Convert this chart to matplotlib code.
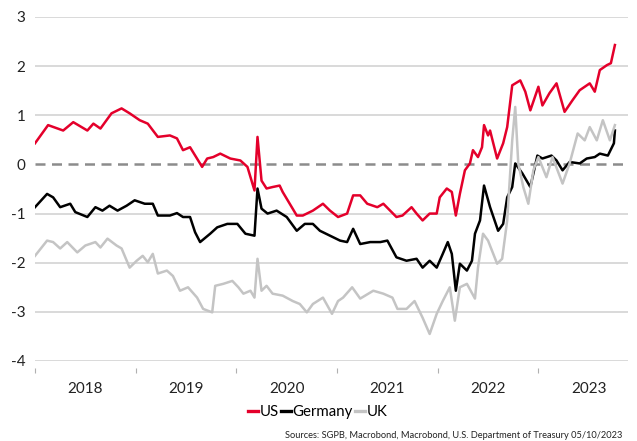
import matplotlib
matplotlib.use("Agg")
import matplotlib.pyplot as plt
from matplotlib.ticker import FixedLocator, NullFormatter, FixedFormatter

# ---- data (decimal years, percent) ----
t_us = [2018.00, 2018.13, 2018.28, 2018.38, 2018.52, 2018.58, 2018.65, 2018.76, 2018.86, 2018.94,
        2019.04, 2019.12, 2019.22, 2019.34, 2019.41, 2019.47, 2019.54, 2019.57, 2019.66, 2019.71,
        2019.77, 2019.84, 2019.94, 2020.04, 2020.11, 2020.18, 2020.21, 2020.25, 2020.30, 2020.36,
        2020.43, 2020.46, 2020.53, 2020.60, 2020.66, 2020.76, 2020.86, 2020.93, 2021.01, 2021.10,
        2021.16, 2021.23, 2021.30, 2021.40, 2021.46, 2021.59, 2021.65, 2021.74, 2021.79, 2021.85,
        2021.92, 2021.99, 2022.02, 2022.09, 2022.14, 2022.18, 2022.22, 2022.27, 2022.32, 2022.35,
        2022.40, 2022.44, 2022.46, 2022.50, 2022.52, 2022.59, 2022.65, 2022.69, 2022.74, 2022.82,
        2022.87, 2022.92, 2023.00, 2023.04, 2023.11, 2023.18, 2023.26, 2023.34, 2023.41, 2023.51,
        2023.56, 2023.61, 2023.68, 2023.72, 2023.76]
us = [0.43, 0.80, 0.69, 0.86, 0.69, 0.83, 0.73, 1.04, 1.14, 1.04,
      0.90, 0.83, 0.56, 0.59, 0.53, 0.29, 0.35, 0.25, -0.05, 0.12,
      0.15, 0.22, 0.12, 0.08, -0.05, -0.53, 0.56, -0.33, -0.49, -0.46,
      -0.43, -0.56, -0.80, -1.04, -1.04, -0.94, -0.80, -0.94, -1.07, -1.00,
      -0.63, -0.63, -0.80, -0.87, -0.80, -1.07, -1.04, -0.87, -1.00, -1.14,
      -1.00, -1.00, -0.67, -0.49, -0.56, -1.04, -0.60, -0.12, 0.02, 0.29,
      0.15, 0.35, 0.80, 0.59, 0.69, 0.12, 0.43, 0.76, 1.61, 1.71,
      1.48, 1.10, 1.58, 1.20, 1.45, 1.65, 1.07, 1.31, 1.51, 1.65,
      1.48, 1.92, 2.02, 2.06, 2.43]

t_de = [2018.00, 2018.12, 2018.18, 2018.25, 2018.35, 2018.40, 2018.52, 2018.60, 2018.67, 2018.74,
        2018.82, 2018.91, 2018.99, 2019.09, 2019.17, 2019.22, 2019.34, 2019.41, 2019.47, 2019.54,
        2019.59, 2019.64, 2019.74, 2019.81, 2019.91, 2020.01, 2020.09, 2020.18, 2020.21, 2020.25,
        2020.31, 2020.40, 2020.50, 2020.60, 2020.68, 2020.76, 2020.83, 2020.93, 2021.03, 2021.10,
        2021.16, 2021.23, 2021.33, 2021.43, 2021.50, 2021.59, 2021.69, 2021.79, 2021.85, 2021.92,
        2021.99, 2022.05, 2022.10, 2022.14, 2022.18, 2022.22, 2022.29, 2022.34, 2022.37, 2022.42,
        2022.46, 2022.52, 2022.60, 2022.65, 2022.69, 2022.74, 2022.77, 2022.84, 2022.92, 2022.99,
        2023.04, 2023.13, 2023.18, 2023.24, 2023.31, 2023.41, 2023.48, 2023.56, 2023.61, 2023.69,
        2023.75, 2023.76]
de = [-0.87, -0.60, -0.67, -0.87, -0.80, -0.97, -1.07, -0.87, -0.94, -0.84,
      -0.94, -0.84, -0.73, -0.80, -0.80, -1.04, -1.04, -0.99, -1.07, -1.07,
      -1.38, -1.58, -1.41, -1.28, -1.21, -1.21, -1.41, -1.45, -0.49, -0.90,
      -1.00, -0.94, -1.07, -1.35, -1.21, -1.21, -1.35, -1.45, -1.55, -1.58,
      -1.31, -1.62, -1.58, -1.58, -1.55, -1.89, -1.96, -1.92, -2.10, -1.96,
      -2.10, -1.82, -1.58, -1.82, -2.57, -2.02, -2.16, -1.96, -1.41, -1.14,
      -0.43, -0.87, -1.35, -1.21, -0.67, -0.46, 0.02, -0.18, -0.46, 0.18,
      0.12, 0.18, 0.08, -0.12, 0.05, 0.02, 0.12, 0.15, 0.22, 0.18,
      0.43, 0.69]

t_uk = [2018.00, 2018.12, 2018.18, 2018.25, 2018.32, 2018.42, 2018.50, 2018.60, 2018.65, 2018.72,
        2018.81, 2018.86, 2018.94, 2019.01, 2019.07, 2019.12, 2019.17, 2019.22, 2019.31, 2019.37,
        2019.44, 2019.52, 2019.61, 2019.67, 2019.76, 2019.79, 2019.87, 2019.96, 2020.02, 2020.07,
        2020.14, 2020.18, 2020.21, 2020.25, 2020.30, 2020.36, 2020.46, 2020.56, 2020.63, 2020.70,
        2020.76, 2020.86, 2020.95, 2021.01, 2021.06, 2021.15, 2021.23, 2021.36, 2021.46, 2021.55,
        2021.60, 2021.69, 2021.77, 2021.85, 2021.92, 2021.99, 2022.05, 2022.12, 2022.17, 2022.22,
        2022.29, 2022.37, 2022.40, 2022.45, 2022.50, 2022.59, 2022.64, 2022.69, 2022.74, 2022.77,
        2022.80, 2022.85, 2022.90, 2022.95, 2023.00, 2023.08, 2023.14, 2023.24, 2023.31, 2023.39,
        2023.46, 2023.51, 2023.58, 2023.64, 2023.71, 2023.76]
uk = [-1.86, -1.55, -1.58, -1.71, -1.58, -1.79, -1.65, -1.58, -1.69, -1.51,
      -1.65, -1.71, -2.10, -1.96, -1.86, -1.99, -1.82, -2.22, -2.16, -2.27,
      -2.57, -2.50, -2.71, -2.94, -3.01, -2.47, -2.43, -2.37, -2.50, -2.63,
      -2.57, -2.71, -1.92, -2.57, -2.47, -2.63, -2.67, -2.78, -2.84, -3.01,
      -2.84, -2.71, -3.04, -2.78, -2.71, -2.50, -2.73, -2.57, -2.63, -2.71,
      -2.94, -2.94, -2.78, -3.12, -3.45, -3.04, -2.78, -2.50, -3.18, -2.50,
      -2.43, -2.73, -2.10, -1.41, -1.55, -2.02, -1.92, -1.14, 0.49, 1.17,
      0.02, -0.46, -0.80, -0.12, 0.15, -0.26, 0.15, -0.39, 0.02, 0.63,
      0.49, 0.76, 0.49, 0.90, 0.49, 0.80]

series_names = ["US", "Germany", "UK"]
series_colors = ["#E4002B", "#000000", "#C4C4C4"]
year_ticks = [2018, 2019, 2020, 2021, 2022, 2023]
year_labels = ["2018", "2019", "2020", "2021", "2022", "2023"]
y_ticks = [-4, -3, -2, -1, 1, 2, 3]
source_text = "Sources: SGPB, Macrobond, Macrobond, U.S. Department of Treasury 05/10/2023"

plt.rcParams['font.family'] = ['Lato', 'DejaVu Sans']

fig = plt.figure(figsize=(6.37, 4.41), dpi=100)
ax = fig.add_axes([35/637, 1 - 361/441, 593/637, 344/441])

ax.set_xlim(2018.0, 2023.89)
ax.set_ylim(-4, 3)

for yv in y_ticks:
    ax.axhline(yv, color="#D0D0D0", lw=1.1, zorder=1)
ax.axhline(0, color="#8C8C8C", lw=1.8, ls=(0, (4, 2.6)), zorder=1.5)

data = [(t_us, us), (t_de, de), (t_uk, uk)]
handles = []
for (tt, vv), name, col in zip(data, series_names, series_colors):
    h, = ax.plot(tt, vv, color=col, lw=1.8, label=name, zorder=3,
                 solid_joinstyle="round")
    handles.append(h)

for s in ax.spines.values():
    s.set_visible(False)
ax.spines['bottom'].set_position(('outward', 5))

ax.set_yticks([-4, -3, -2, -1, 0, 1, 2, 3])
ax.set_yticklabels(["-4", "-3", "-2", "-1", "0", "1", "2", "3"])
ax.tick_params(axis='y', length=0, pad=7, labelsize=11, labelcolor="#222222")

ax.xaxis.set_major_locator(FixedLocator(year_ticks))
ax.xaxis.set_major_formatter(NullFormatter())
ax.xaxis.set_minor_locator(FixedLocator([y + 0.5 for y in year_ticks]))
ax.xaxis.set_minor_formatter(FixedFormatter(year_labels))
ax.tick_params(axis='x', which='major', length=3.5, width=0.8, color="#B0B0B0")
ax.tick_params(axis='x', which='minor', length=0, pad=10, labelsize=11, labelcolor="#222222")

fig.legend(handles=handles, labels=series_names, loc='center',
           bbox_to_anchor=(318/637, 1 - 412/441), ncol=3, frameon=False,
           fontsize=10.8, handlelength=0.65, handletextpad=0.12, columnspacing=0.15,
           borderpad=0, borderaxespad=0)
for lh in fig.legends[0].get_lines():
    lh.set_linewidth(2.4)

fig.text(622/637, 1 - 435/441, source_text, ha='right', va='center', fontsize=6.7,
         color="#222222")

fig.savefig("out.png", dpi=100)
